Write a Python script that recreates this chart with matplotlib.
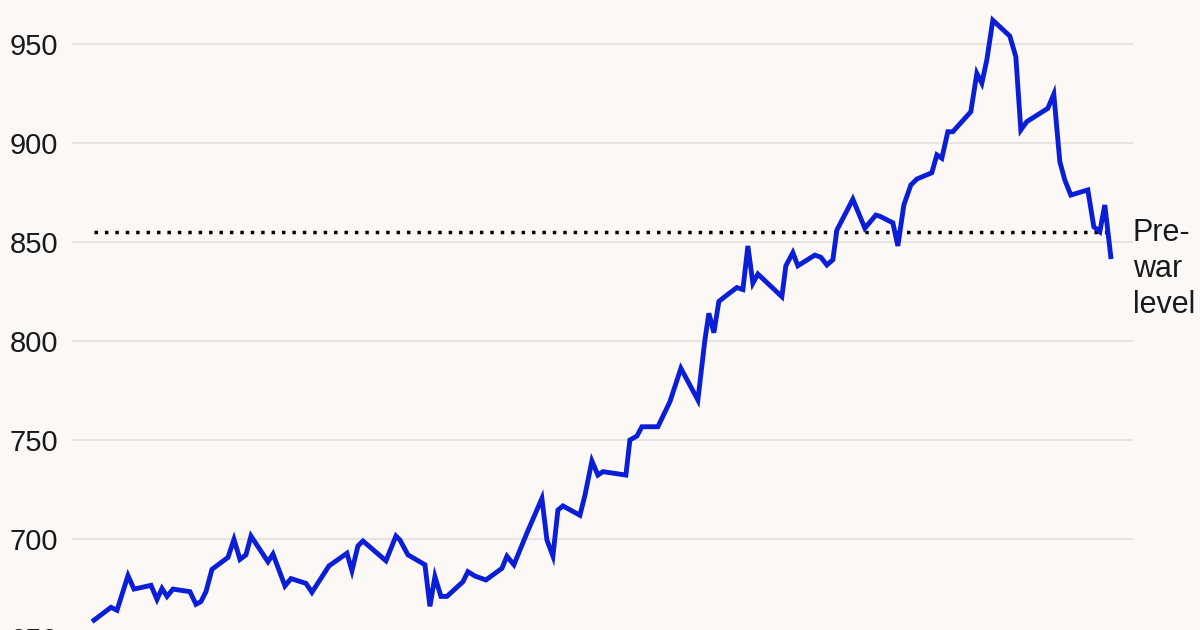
import matplotlib.pyplot as plt

# price index (x = days from first point)
day = [0, 17, 23, 34, 40, 57, 63, 68, 73, 79, 96, 102, 107, 112, 118, 126,
       134, 140, 146, 152, 157, 174, 179, 191, 197, 212, 218, 235, 253, 258,
       264, 269, 292, 302, 306, 314, 331, 336, 341, 347, 353, 369, 374, 381,
       392, 408, 413, 420, 433, 448, 453, 459, 464, 469, 486, 491, 498, 504,
       509, 532, 536, 543, 548, 564, 576, 587, 604, 611, 615, 620, 625, 633,
       643, 649, 654, 659, 664, 688, 692, 699, 704, 721, 727, 733, 739, 743,
       759, 771, 782, 786, 799, 804, 810, 817, 823, 838, 843, 848, 854, 859,
       877, 883, 888, 893, 899, 916, 922, 927, 933, 954, 960, 966, 971, 977,
       994, 1000, 1006, 1011, 1017]
value = [659, 665.5, 664, 681.5, 674.7, 676.6, 669.5, 675, 671, 674.7, 673.4,
         667, 668.4, 673.4, 684.7, 687.7, 690.7, 699.8, 689.7, 692, 701.5,
         688.5, 692.4, 676.3, 680, 677.6, 673.1, 686.4, 692.8, 684, 696.5,
         699, 689, 701.5, 699.5, 692, 687, 666, 681, 671, 671, 678.4, 683.5,
         681.3, 679.3, 685.2, 691.3, 687, 703, 720.5, 699.5, 691.4, 714.6,
         716.7, 712, 722, 739.4, 732.3, 734, 732.3, 750, 752, 756.7, 756.7,
         769.3, 786.2, 770.2, 800.5, 814, 804.2, 820, 823.2, 827, 826, 848,
         829.2, 833.8, 822.4, 838, 844.6, 838, 843.4, 842.3, 838.4, 841, 856,
         871.6, 857, 863.6, 863, 859.7, 848, 868.7, 878.8, 881.8, 885, 894,
         892.3, 905.7, 905.7, 915.8, 935.2, 930.2, 942, 962, 954, 943.6,
         906.6, 910.8, 917.5, 924.7, 890.6, 881.3, 873.7, 876.3, 857.7,
         855.2, 868.7, 842.6]
prewar_level = 855
yticks = [650, 700, 750, 800, 850, 900, 950]

plt.rcParams['font.family'] = ['Liberation Sans', 'DejaVu Sans']
bg = '#fbf8f6'

fig = plt.figure(figsize=(12, 6.3), dpi=100, facecolor=bg)
ax = fig.add_axes([0.06, -0.0127, 0.884, 1.0057], facecolor=bg)

ax.plot(day, value, color='#0a1ed8', lw=3.5, solid_joinstyle='miter', zorder=3)
ax.hlines(prewar_level, day[0], day[-1], colors='black', lw=2.5,
          linestyles=(0, (1, 2)), zorder=2)

ax.set_xlim(-22, 1039)
ax.set_ylim(650, 970)
ax.set_yticks(yticks)
ax.set_xticks([])
ax.tick_params(axis='y', length=0, pad=10, labelsize=21, labelcolor='#1a1a1a')
ax.grid(axis='y', color='#e6e3e1', lw=1.4)
for s in ax.spines.values():
    s.set_visible(False)

ax.text(1.0, 862, 'Pre-\nwar\nlevel', transform=ax.get_yaxis_transform(),
        ha='left', va='top', fontsize=22, color='#1a1a1a', linespacing=1.25)

fig.savefig('out.png', dpi=100, facecolor=bg)
